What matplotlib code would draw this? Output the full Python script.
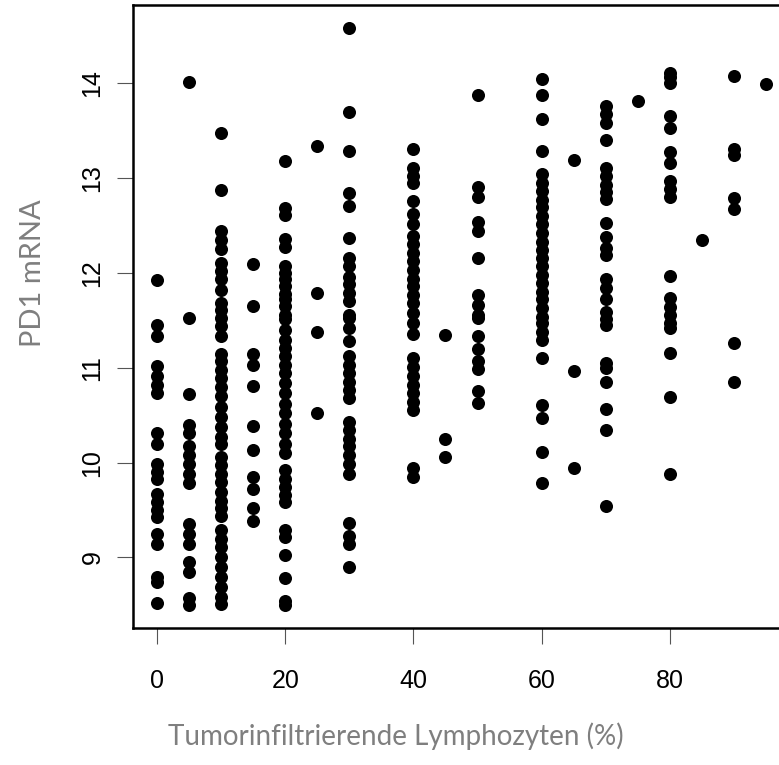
import matplotlib.pyplot as plt

# PD1 mRNA je Anteil tumorinfiltrierender Lymphozyten
pd1_by_til = {
    0: [11.92, 11.45, 11.33, 11.02, 10.91, 10.82, 10.73, 10.31, 10.20, 9.99,
        9.90, 9.83, 9.67, 9.59, 9.50, 9.43, 9.25, 9.14, 8.79, 8.74, 8.52],
    5: [14.01, 11.52, 10.72, 10.40, 10.31, 10.18, 10.08, 9.99, 9.88, 9.79,
        9.35, 9.25, 9.14, 8.95, 8.85, 8.57, 8.50],
    10: [13.47, 12.87, 12.44, 12.35, 12.25, 12.10, 12.02, 11.93, 11.82, 11.68,
         11.61, 11.52, 11.44, 11.33, 11.15, 11.07, 10.98, 10.89, 10.80, 10.70,
         10.59, 10.48, 10.38, 10.27, 10.20, 10.06, 9.97, 9.88, 9.80, 9.69,
         9.60, 9.52, 9.44, 9.29, 9.20, 9.11, 9.00, 8.90, 8.79, 8.69, 8.58, 8.51],
    15: [12.09, 11.65, 11.14, 11.03, 10.81, 10.39, 10.13, 9.85, 9.72, 9.52, 9.38],
    20: [13.18, 12.68, 12.61, 12.36, 12.27, 12.07, 12.00, 11.93, 11.86, 11.78,
         11.72, 11.65, 11.56, 11.51, 11.40, 11.29, 11.21, 11.12, 11.03, 10.94,
         10.84, 10.73, 10.62, 10.52, 10.41, 10.31, 10.20, 10.10, 9.92, 9.83,
         9.74, 9.66, 9.59, 9.29, 9.22, 9.03, 8.78, 8.54, 8.50],
    25: [13.34, 11.79, 11.38, 10.52],
    30: [14.58, 13.70, 13.28, 12.84, 12.70, 12.37, 12.16, 12.07, 11.96, 11.88,
         11.79, 11.70, 11.56, 11.52, 11.42, 11.28, 11.12, 11.03, 10.94, 10.85,
         10.77, 10.68, 10.43, 10.34, 10.25, 10.17, 10.08, 9.99, 9.88, 9.36,
         9.23, 9.14, 8.90],
    40: [13.31, 13.11, 13.02, 12.95, 12.76, 12.62, 12.51, 12.39, 12.30, 12.21,
         12.12, 12.03, 11.94, 11.86, 11.77, 11.68, 11.58, 11.47, 11.36, 11.10,
         11.01, 10.91, 10.82, 10.73, 10.64, 10.55, 9.94, 9.85],
    45: [11.35, 10.25, 10.06],
    50: [13.87, 12.91, 12.80, 12.54, 12.44, 12.16, 11.77, 11.66, 11.56, 11.52,
         11.33, 11.20, 11.07, 10.99, 10.75, 10.63],
    60: [14.04, 13.87, 13.62, 13.28, 13.04, 12.95, 12.86, 12.77, 12.69, 12.60,
         12.51, 12.42, 12.33, 12.24, 12.16, 12.07, 11.98, 11.89, 11.80, 11.72,
         11.63, 11.54, 11.47, 11.38, 11.29, 11.10, 10.61, 10.47, 10.11, 9.79],
    65: [13.19, 10.97, 9.94],
    70: [13.76, 13.67, 13.58, 13.40, 13.11, 13.02, 12.93, 12.85, 12.78, 12.53,
         12.38, 12.26, 12.19, 11.93, 11.84, 11.72, 11.59, 11.51, 11.45, 11.05,
         11.00, 10.85, 10.56, 10.34, 9.54],
    75: [13.81],
    80: [14.11, 14.06, 14.00, 13.65, 13.53, 13.27, 13.16, 12.97, 12.88, 12.80,
         11.97, 11.73, 11.64, 11.56, 11.47, 11.42, 11.16, 10.69, 9.88],
    85: [12.35],
    90: [14.08, 13.31, 13.24, 12.79, 12.67, 11.26, 10.85],
    95: [13.99],
}

til = []
pd1 = []
for k, vals in pd1_by_til.items():
    til += [k] * len(vals)
    pd1 += vals

x_ticks = [0, 20, 40, 60, 80]
y_ticks = [9, 10, 11, 12, 13, 14]
grau = '#7f7f7f'

fig = plt.figure(figsize=(7.79, 7.65), dpi=100)
# Achse reicht rechts über den Bildrand hinaus (wie im Original abgeschnitten)
ax = fig.add_axes([133 / 779, 137 / 765, 657 / 779, 623 / 765])

ax.plot(til, pd1, 'o', color='black', markersize=9.4, markeredgewidth=0)

# R-typische Achsenbereiche: 4 % Rand
def pad_range(v):
    lo, hi = min(v), max(v)
    d = (hi - lo) * 0.04
    return lo - d, hi + d

ax.set_xlim(*pad_range(til))
ax.set_ylim(*pad_range(pd1))

ax.set_xticks(x_ticks)
ax.set_yticks(y_ticks)
ax.tick_params(direction='out', length=11.5, width=0.8, color='#555555',
               labelsize=18, labelcolor='black')
ax.tick_params(axis='x', pad=18)
ax.tick_params(axis='y', pad=9, labelrotation=90)
for lab in ax.get_yticklabels():
    lab.set_va('center')
for t in ax.get_xticklabels() + ax.get_yticklabels():
    t.set_family('Liberation Sans')

for s in ax.spines.values():
    s.set_linewidth(1.8)

fig.text(396 / 779, 1 - 736 / 765, 'Tumorinfiltrierende Lymphozyten (%)',
         ha='center', va='center', fontsize=20, color=grau, family='Lato')
fig.text(33 / 779, 1 - 273 / 765, 'PD1 mRNA', ha='center', va='center',
         rotation=90, fontsize=21, color=grau, family='Lato')

fig.savefig('out.png', dpi=100)
